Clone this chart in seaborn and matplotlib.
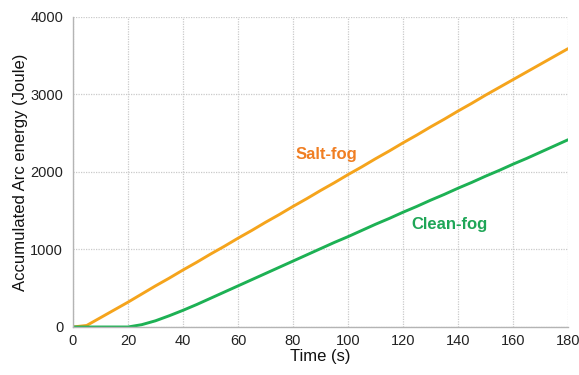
import numpy as np
import pandas as pd
import matplotlib
matplotlib.use("Agg")
import matplotlib.pyplot as plt
import seaborn as sns

time_s = list(range(0, 181, 5))
salt_fog = [0, 20, 120, 220, 320, 425, 530, 630, 735, 835, 940, 1040, 1145, 1245,
            1350, 1450, 1555, 1655, 1760, 1860, 1965, 2065, 2170, 2270, 2375, 2475,
            2580, 2680, 2785, 2885, 2990, 3090, 3190, 3290, 3390, 3490, 3590]
clean_fog = [0, 0, 0, 0, 0, 30, 80, 145, 215, 290, 370, 450, 530, 610, 690, 770,
             850, 930, 1010, 1090, 1165, 1245, 1325, 1400, 1480, 1555, 1635, 1710,
             1790, 1865, 1945, 2020, 2100, 2175, 2255, 2335, 2415]
series_names = ["Salt-fog", "Clean-fog"]
line_colors = ["#F5A41C", "#1DB154"]
label_colors = ["#F07E22", "#1FA657"]

df = pd.DataFrame({
    "Time": time_s * 2,
    "Energy": salt_fog + clean_fog,
    "Condition": [series_names[0]] * len(time_s) + [series_names[1]] * len(time_s),
})

sns.set_theme(style="whitegrid")
plt.rcParams["font.family"] = ["Liberation Sans", "DejaVu Sans"]

fig = plt.figure(figsize=(5.79, 3.75), dpi=100)
ax = fig.add_axes([0.126, 0.128, 0.855, 0.827])

sns.lineplot(data=df, x="Time", y="Energy", hue="Condition",
             palette=dict(zip(series_names, line_colors)), linewidth=2.1,
             legend=False, ax=ax)

ax.set_xlim(0, 180)
ax.set_ylim(0, 4000)
ax.set_xticks(range(0, 181, 20))
ax.set_yticks(range(0, 4001, 1000))
ax.grid(True, color="#CACACA", linestyle=(0, (1, 1)), linewidth=0.9)
for side in ["top", "right"]:
    ax.spines[side].set_visible(False)
for side in ["left", "bottom"]:
    ax.spines[side].set_color("#B4B4B4")
    ax.spines[side].set_linewidth(1.0)
ax.tick_params(labelsize=10.5, colors="#222222", length=0, pad=7)
ax.tick_params(axis="x", pad=5)
ax.set_xlabel("Time (s)", fontsize=12, color="#111111", labelpad=1)
ax.set_ylabel("Accumulated Arc energy (Joule)", fontsize=12, color="#111111", labelpad=2)

ax.text(92, 2220, series_names[0], color=label_colors[0], fontsize=12,
        fontweight="bold", ha="center", va="center")
ax.text(137, 1320, series_names[1], color=label_colors[1], fontsize=12,
        fontweight="bold", ha="center", va="center")

fig.savefig("out.png", dpi=100)
